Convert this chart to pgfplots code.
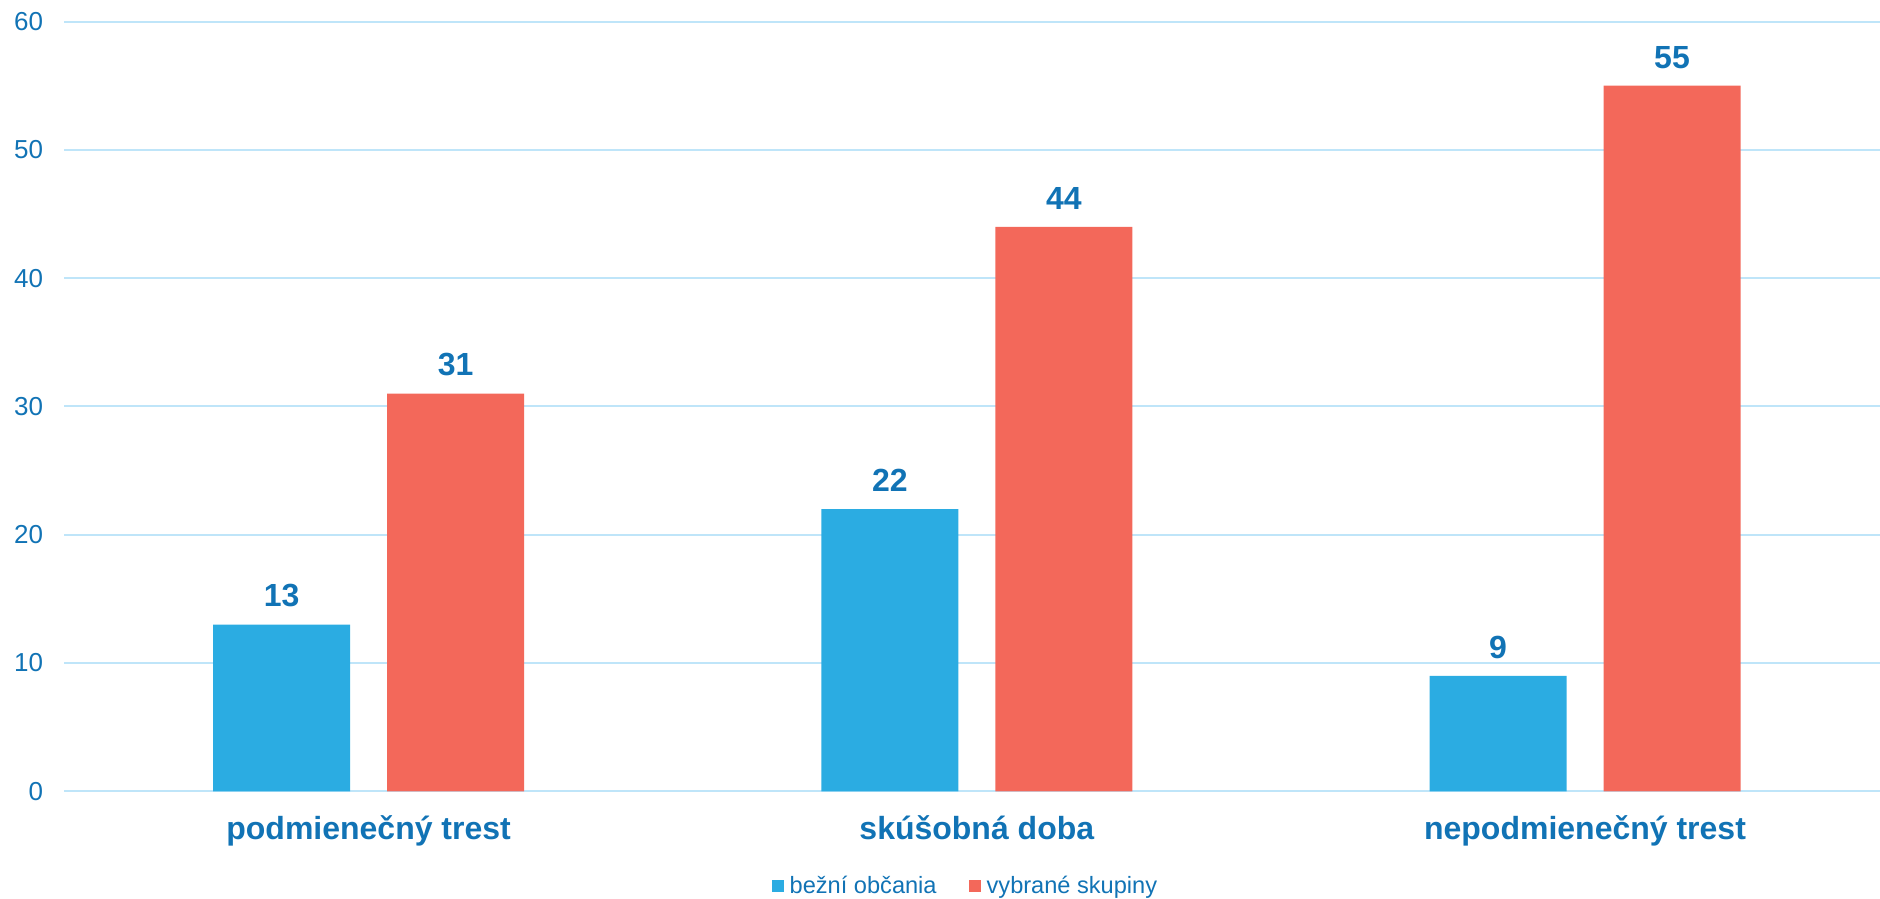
\documentclass[border=0pt]{standalone}
\usepackage{fontspec}
\setmainfont{Liberation Sans}
\usepackage{pgfplots}
\pgfplotsset{compat=1.18}
\definecolor{txtblue}{HTML}{1173B5}
\definecolor{barblue}{HTML}{2BACE2}
\definecolor{barred}{HTML}{F3685A}
\definecolor{gridblue}{HTML}{BFE5F9}
\begin{document}
\begin{tikzpicture}
\path[use as bounding box] (-32.25pt,-53.85pt) rectangle (907.75pt,395.65pt);
\begin{axis}[
  at={(0pt,0pt)}, anchor=south west,
  scale only axis,
  width=907.75pt, height=384.85pt,
  ybar, bar width=68.5pt,
  xmin=-0.5, xmax=2.485,
  ymin=0, ymax=60,
  ytick={0,10,...,60},
  xtick={0,1,2},
  xticklabels={podmienečný trest, skúšobná doba, nepodmienečný trest},
  axis line style={draw=none},
  major tick length=0pt,
  ymajorgrids,
  grid style={gridblue, line width=1pt},
  /pgf/number format/assume math mode=true,
  yticklabel style={font=\fontsize{13}{15}\selectfont, text=txtblue, anchor=east, inner sep=0pt, xshift=-10.5pt},
  xticklabel style={font=\fontsize{16}{19}\selectfont\bfseries, text=txtblue, anchor=base, inner sep=0pt, yshift=-24pt},
  nodes near coords,
  every node near coord/.append style={font=\fontsize{16}{19}\selectfont\bfseries, text=txtblue, anchor=south, inner sep=0pt, yshift=8.5pt},
  legend columns=2,
  legend style={at={(0.4957,-0.123)}, anchor=center, draw=none, fill=none,
    font=\fontsize{11.8}{14}\selectfont, text=txtblue,
    /tikz/every odd column/.append style={column sep=3pt},
    /tikz/every even column/.append style={column sep=16pt},
    nodes={inner sep=0pt}},
  legend image code/.code={\fill[#1] (0pt,-3pt) rectangle (6pt,3pt);},
]
\addplot[fill=barblue, draw=none, bar shift=-43.5pt] coordinates {(0,13) (1,22) (2,9)};
\addplot[fill=barred, draw=none, bar shift=43.5pt] coordinates {(0,31) (1,44) (2,55)};
\legend{bežní občania, vybrané skupiny}
\end{axis}
\end{tikzpicture}
\end{document}
